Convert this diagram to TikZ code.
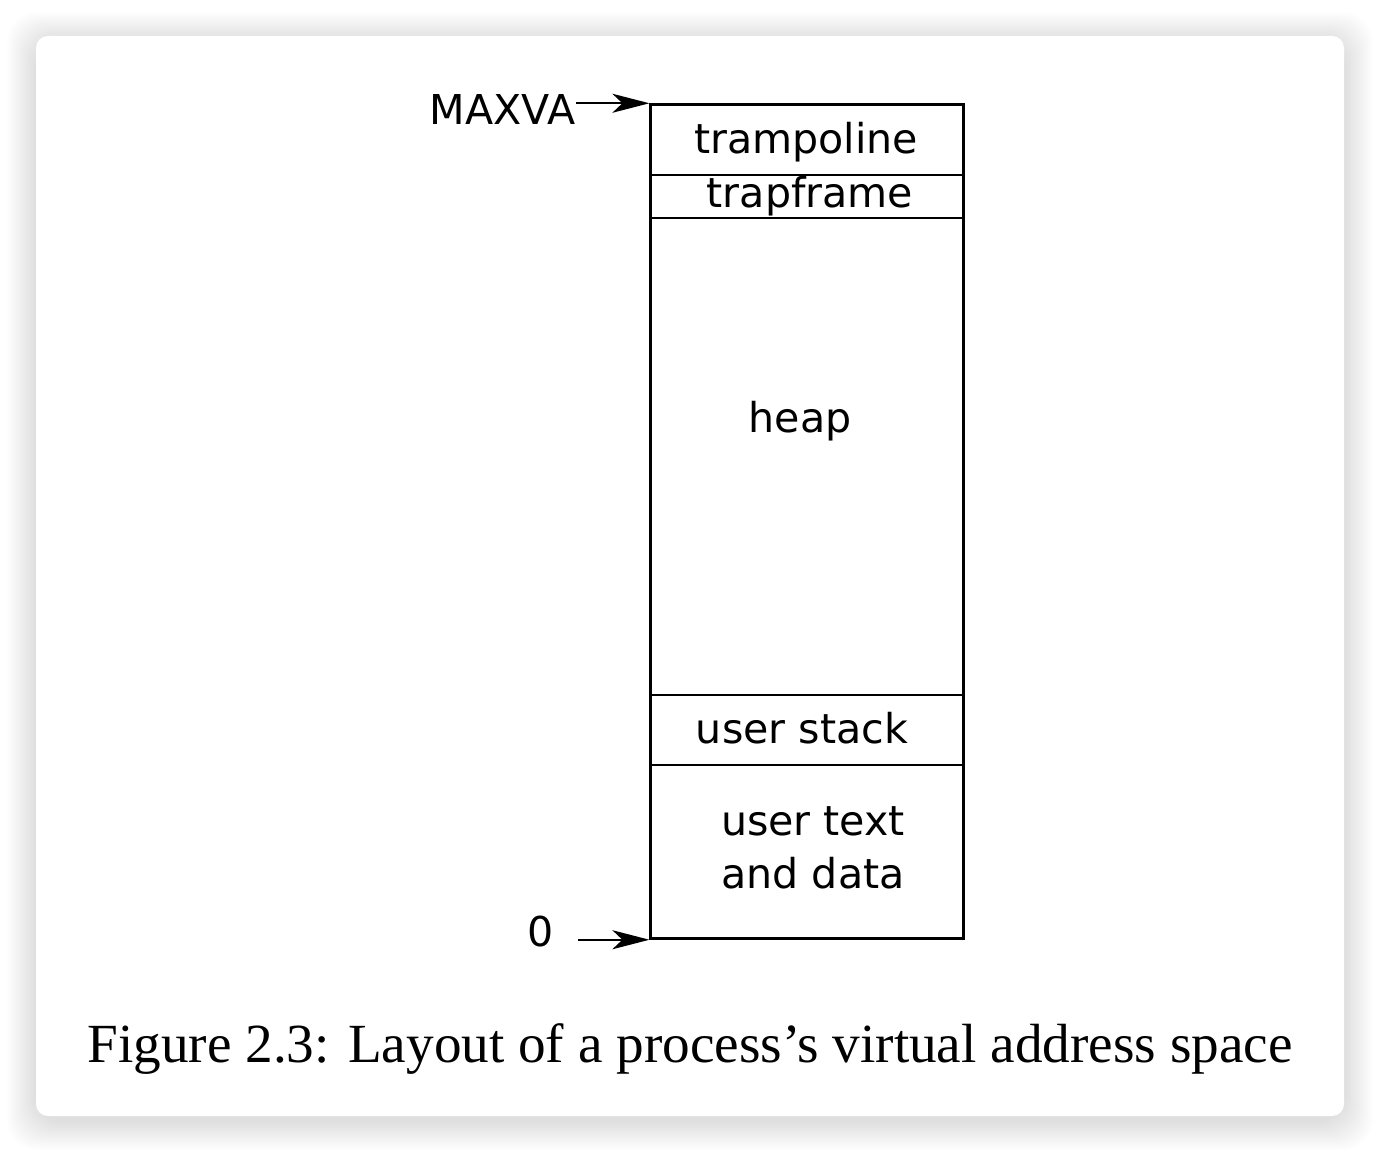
\documentclass[tikz,border=0pt]{standalone}
\usepackage{fontspec}
\setmainfont{Liberation Serif}
\newfontfamily\figfont{DejaVu Sans}
\usetikzlibrary{arrows.meta}

\begin{document}
\begin{tikzpicture}[x=0.01cm,y=-0.01cm,
    every node/.style={inner sep=0pt},
    label/.style={font=\figfont\fontsize{11.7}{15}\selectfont,align=center},
    divider/.style={line width=0.45pt},
    pointer/.style={line width=0.6pt,-{Stealth[length=0.37cm,width=0.19cm,inset=0.1cm]}}]
    \useasboundingbox (0,0) rectangle (1380,1152);
    % card with soft shadow
    \foreach \i in {1,...,16}
        \fill[black,opacity=0.008,rounded corners=0.3cm] (36-1.8*\i,36-1.8*\i+5) rectangle (1344+1.8*\i,1116+1.8*\i+5);
    \fill[white,rounded corners=0.12cm] (36,36) rectangle (1344,1116);

    % address space
    \node[draw,line width=0.85pt,minimum width=3.12cm,minimum height=8.33cm] (vas) at (807,521.5) {};
    \draw[divider] (vas.west |- 0,175) -- (vas.east |- 0,175);
    \draw[divider] (vas.west |- 0,218) -- (vas.east |- 0,218);
    \draw[divider] (vas.west |- 0,695) -- (vas.east |- 0,695);
    \draw[divider] (vas.west |- 0,765) -- (vas.east |- 0,765);

    \node[label] (tramp) at (806,142) {trampoline};
    \node[label] (trapf) at (810,196) {trapframe};
    \node[label] (heap) at (800,421) {heap};
    \node[label] (ustack) at (802,728) {user stack};
    \node[label] (utext) at (813,848) {user text\\and data};

    \node[label,anchor=east] (maxva) at (576,110) {MAXVA};
    \node[label] (zero) at (541,932) {0};
    \draw[pointer] (maxva.east |- vas.north west) -- (vas.north west);
    \draw[pointer] ([xshift=0.23cm]zero.east |- vas.south west) -- (vas.south west);

    \node[font=\fontsize{15.7}{18}\selectfont] (caption) at (690,1049) {Figure 2.3: Layout of a process’s virtual address space};
\end{tikzpicture}
\end{document}
